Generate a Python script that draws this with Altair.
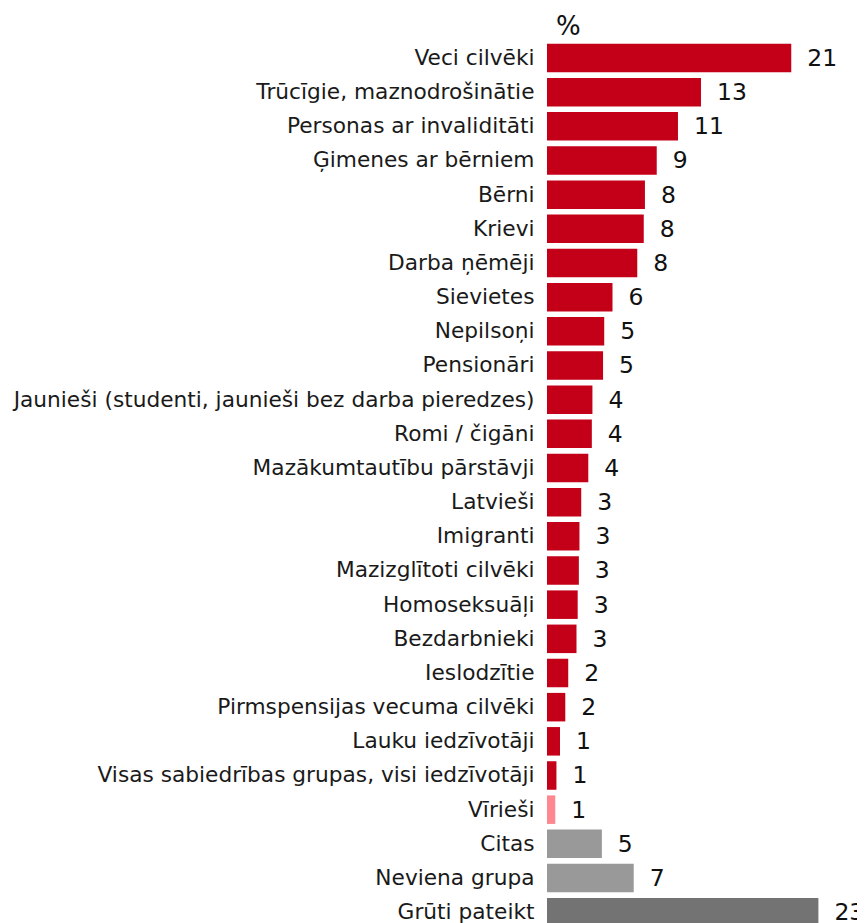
import altair as alt
import pandas as pd

categories = [
    "Veci cilvēki", "Trūcīgie, maznodrošinātie", "Personas ar invaliditāti",
    "Ģimenes ar bērniem", "Bērni", "Krievi", "Darba ņēmēji", "Sievietes",
    "Nepilsoņi", "Pensionāri", "Jaunieši (studenti, jaunieši bez darba pieredzes)",
    "Romi / čigāni", "Mazākumtautību pārstāvji", "Latvieši", "Imigranti",
    "Mazizglītoti cilvēki", "Homoseksuāļi", "Bezdarbnieki", "Ieslodzītie",
    "Pirmspensijas vecuma cilvēki", "Lauku iedzīvotāji",
    "Visas sabiedrības grupas, visi iedzīvotāji", "Vīrieši", "Citas",
    "Neviena grupa", "Grūti pateikt",
]
values = [20.7, 13.05, 11.1, 9.3, 8.3, 8.2, 7.65, 5.55, 4.85, 4.75, 3.85, 3.8,
          3.5, 2.9, 2.75, 2.7, 2.6, 2.5, 1.8, 1.55, 1.1, 0.8, 0.7, 4.65, 7.35, 23.0]
labels = [21, 13, 11, 9, 8, 8, 8, 6, 5, 5, 4, 4, 4, 3, 3, 3, 3, 3, 2, 2, 1, 1, 1,
          5, 7, 23]
colors = ["#C40018"] * 22 + ["#FF8790", "#999999", "#999999", "#737373"]

df = pd.DataFrame({"cat": categories, "val": values, "lab": labels, "col": colors})

FONT = "DejaVu Sans"

y = alt.Y("cat:N", sort=categories,
          scale=alt.Scale(paddingInner=0.165, paddingOuter=0.08),
          axis=alt.Axis(title=None, ticks=False, domain=False, labelFontSize=21.7,
                        labelPadding=13, labelLimit=0, labelFont=FONT,
                        labelColor="#1a1a1a"))
x = alt.X("val:Q", scale=alt.Scale(domain=[0, 300 / 11.8], nice=False, zero=True),
          axis=None)

bars = alt.Chart(df).mark_bar().encode(
    x=x, y=y, color=alt.Color("col:N", scale=None))

text = alt.Chart(df).mark_text(align="left", baseline="middle", dx=16, dy=1,
                               fontSize=23.5, font=FONT, color="#111111").encode(
    x=x, y=y, text="lab:N")

chart = (bars + text).properties(
    width=300, height=26 * 34.16,
    title=alt.TitleParams("%", anchor="start", frame="group", dx=9, fontSize=26,
                          font=FONT, fontWeight="normal", color="#111111",
                          offset=1),
    padding={"left": 539, "top": 33, "right": 10, "bottom": 0},
    autosize="none",
).configure_view(stroke=None)

chart.save("out.html", embed_options={"renderer": "svg", "actions": False})
